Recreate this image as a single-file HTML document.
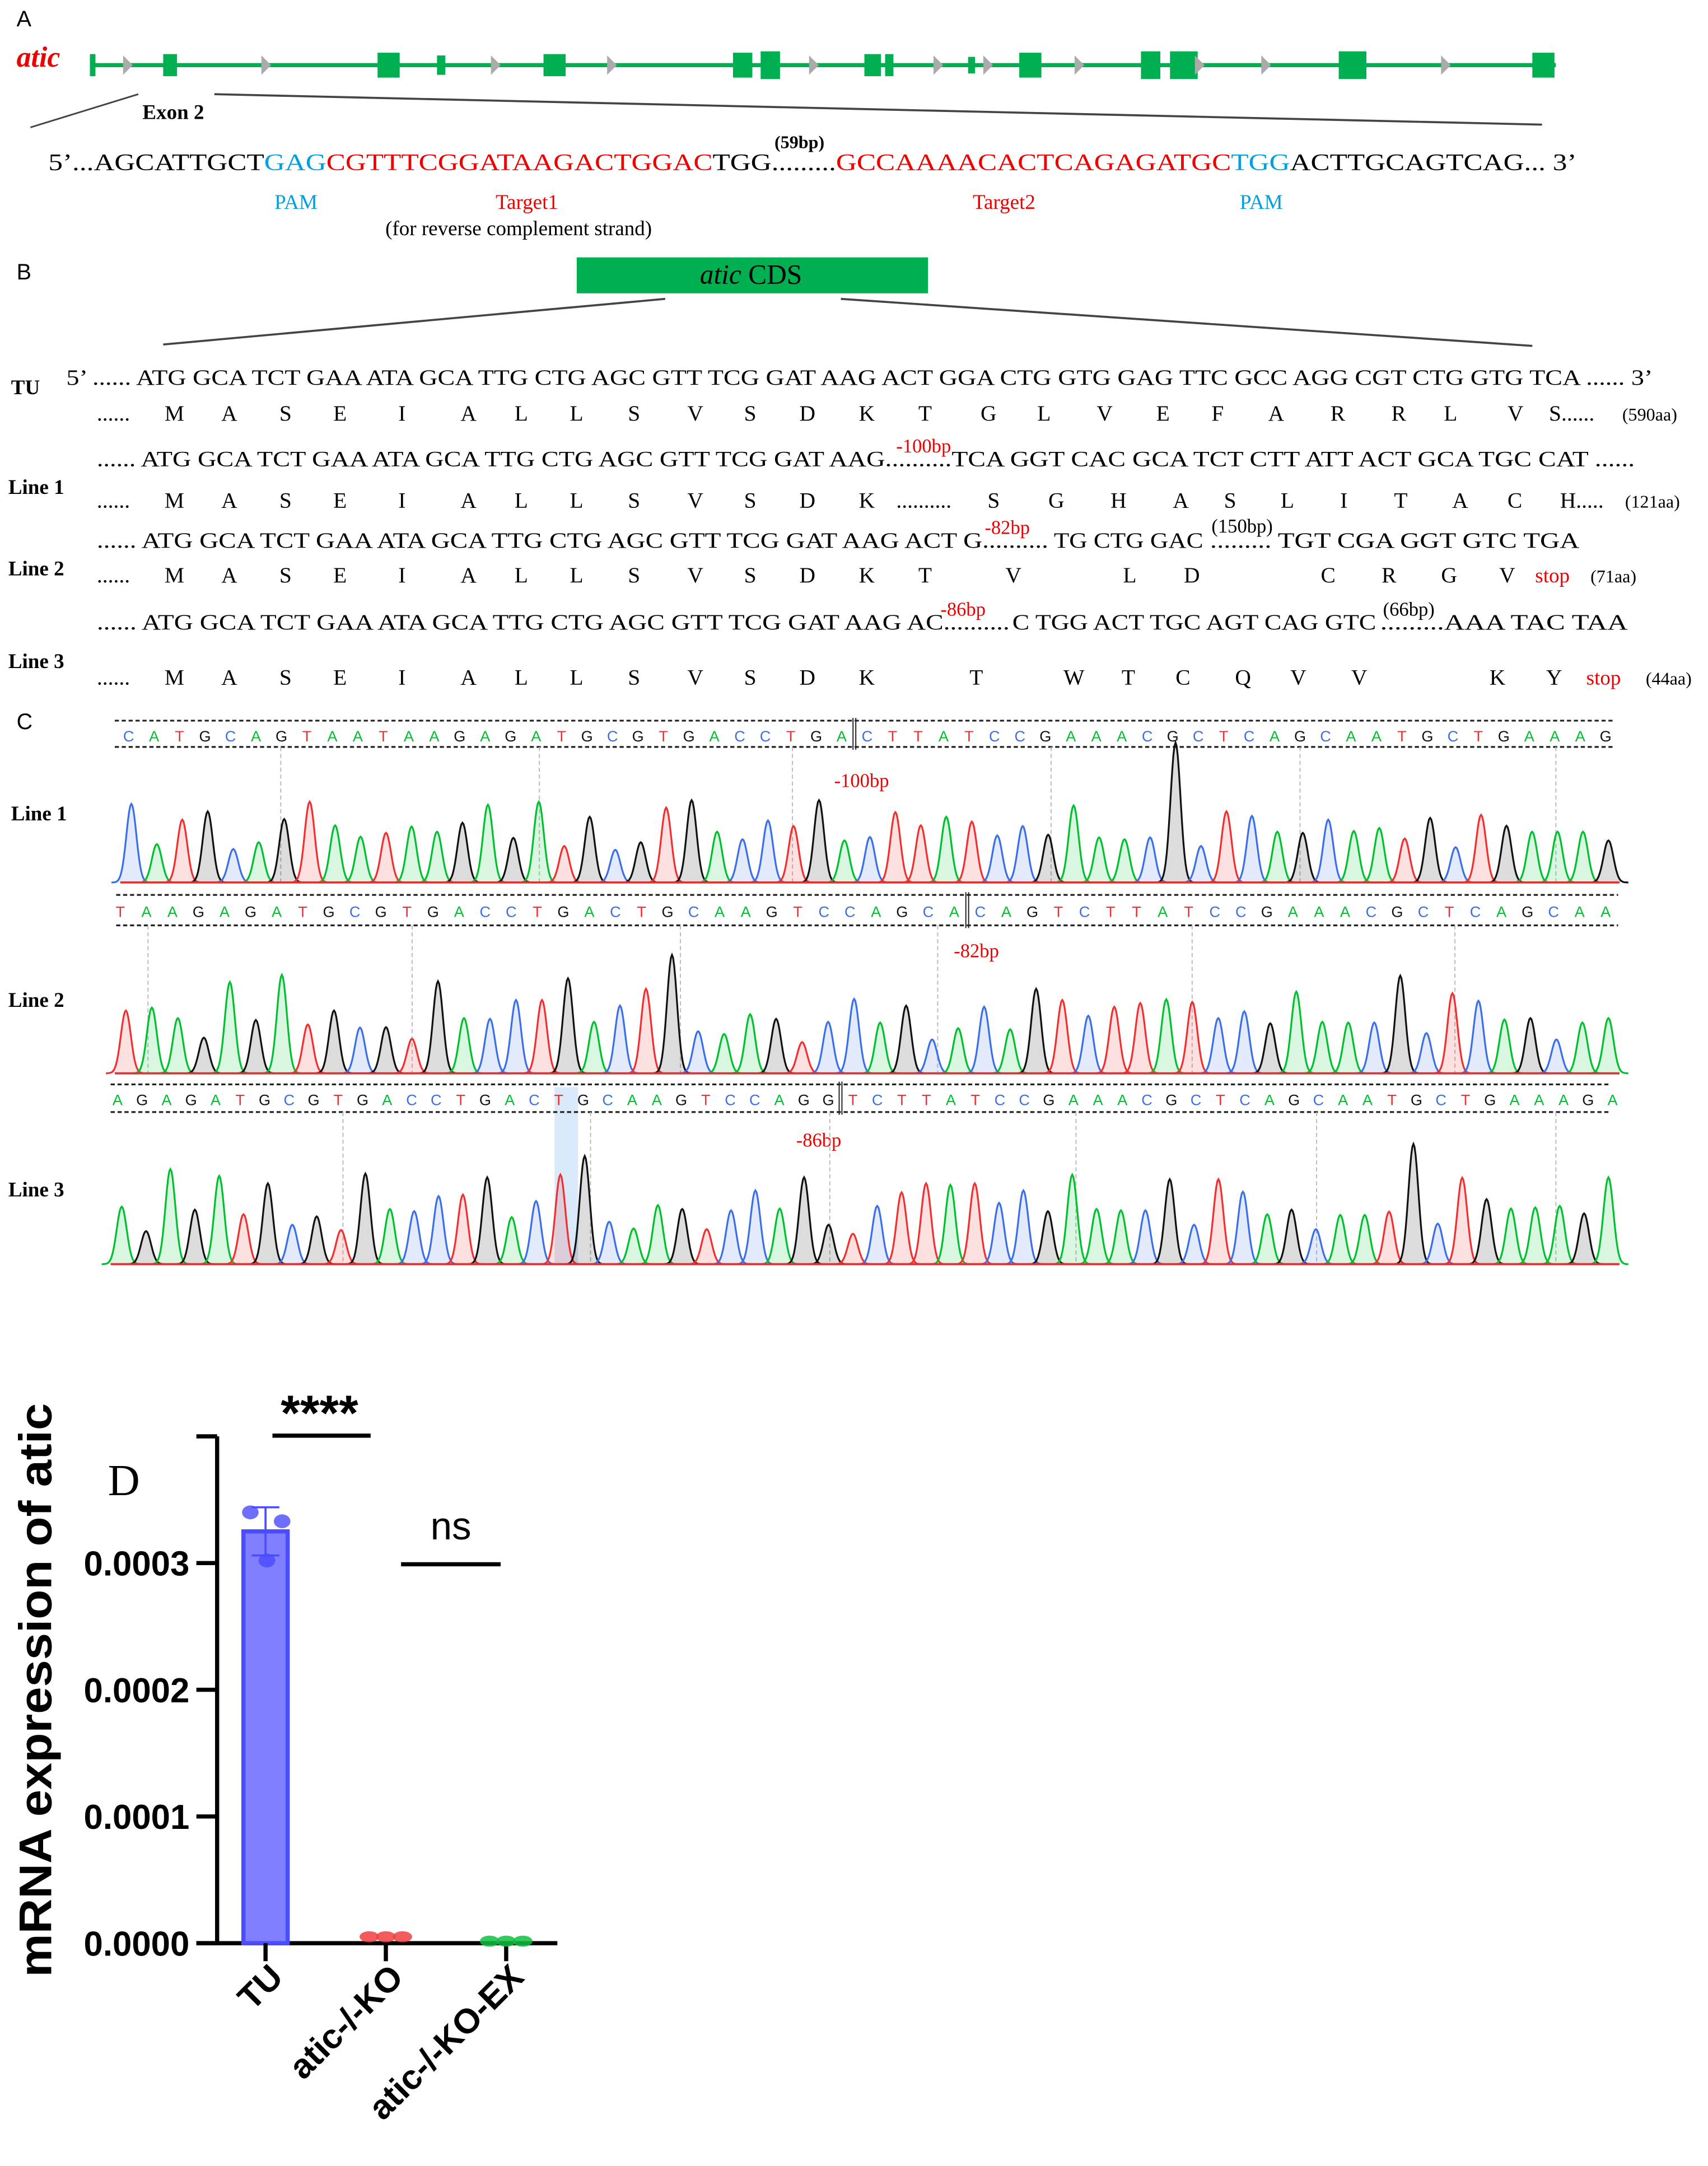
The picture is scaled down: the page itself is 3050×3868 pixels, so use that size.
<!DOCTYPE html>
<html><head><meta charset="utf-8"><style>
html,body{margin:0;padding:0;background:#fff}
svg{display:block}
text{font-family:"Liberation Serif",serif}
.s{font-family:"Liberation Sans",sans-serif}
</style></head><body>
<svg id="fig" width="3050" height="3868" viewBox="0 0 1235 1566" xmlns="http://www.w3.org/2000/svg">
<rect width="1235" height="1566" fill="#fff"/>
<!-- Panel A -->
<g>
<text class="s" x="12" y="19" font-size="16">A</text>
<text x="12" y="48" font-size="21" fill="#e00" font-style="italic" font-weight="bold">atic</text>
<line x1="65" y1="47" x2="1125" y2="47" stroke="#00b050" stroke-width="3"/>
<g id="exons"></g>
<g id="chev"></g>
<line x1="22" y1="92" x2="100" y2="68" stroke="#444" stroke-width="1.2"/>
<line x1="155" y1="68" x2="1115" y2="90" stroke="#444" stroke-width="1.5"/>
<text x="103" y="86" font-size="15" font-weight="bold">Exon 2</text>
<text x="560" y="107" font-size="13" font-weight="bold">(59bp)</text>
<text x="35" y="123" font-size="17" textLength="1105" lengthAdjust="spacingAndGlyphs">5’...AGCATTGCT<tspan fill="#00a0e0">GAG</tspan><tspan fill="#e00">CGTTTCGGATAAGACTGGAC</tspan>TGG.........<tspan fill="#e00">GCCAAAACACTCAGAGATGC</tspan><tspan fill="#00a0e0">TGG</tspan>ACTTGCAGTCAG... 3’</text>
<text x="214" y="151" font-size="15" fill="#00a0e0" text-anchor="middle">PAM</text>
<text x="381" y="151" font-size="15" fill="#e00" text-anchor="middle">Target1</text>
<text x="375" y="170" font-size="15" text-anchor="middle">(for reverse complement strand)</text>
<text x="726" y="151" font-size="15" fill="#e00" text-anchor="middle">Target2</text>
<text x="912" y="151" font-size="15" fill="#00a0e0" text-anchor="middle">PAM</text>
</g>
<!-- Panel B -->
<g>
<text class="s" x="12" y="202" font-size="16">B</text>
<rect x="417" y="186" width="254" height="26" fill="#00b050"/>
<text x="543" y="205" font-size="20" text-anchor="middle"><tspan font-style="italic">atic</tspan> CDS</text>
<line x1="481" y1="216" x2="118" y2="249" stroke="#444" stroke-width="1.5"/>
<line x1="608" y1="216" x2="1108" y2="250" stroke="#444" stroke-width="1.5"/>
<text x="8" y="285" font-size="15" font-weight="bold">TU</text>
<text x="48" y="278" font-size="16" textLength="1147" lengthAdjust="spacingAndGlyphs">5’ ...... ATG GCA TCT GAA ATA GCA TTG CTG AGC GTT TCG GAT AAG ACT GGA CTG GTG GAG TTC GCC AGG CGT CTG GTG TCA ...... 3’</text>
<text x="6" y="357" font-size="15" font-weight="bold">Line 1</text>
<text x="70" y="337" font-size="16" textLength="570" lengthAdjust="spacingAndGlyphs">...... ATG GCA TCT GAA ATA GCA TTG CTG AGC GTT TCG GAT AAG</text>
<text x="648" y="327" font-size="14" fill="#e00">-100bp</text>
<text x="640" y="337" font-size="16" textLength="542" lengthAdjust="spacingAndGlyphs">..........TCA GGT CAC GCA TCT CTT ATT ACT GCA TGC CAT ......</text>
<text x="6" y="416" font-size="15" font-weight="bold">Line 2</text>
<text x="70" y="396" font-size="16" textLength="688" lengthAdjust="spacingAndGlyphs">...... ATG GCA TCT GAA ATA GCA TTG CTG AGC GTT TCG GAT AAG ACT G..........</text>
<text x="712" y="386" font-size="14" fill="#e00">-82bp</text>
<text x="762" y="396" font-size="16" textLength="108" lengthAdjust="spacingAndGlyphs">TG CTG GAC</text>
<text x="876" y="385" font-size="14">(150bp)</text>
<text x="875" y="396" font-size="16" textLength="267" lengthAdjust="spacingAndGlyphs">......... TGT CGA GGT GTC TGA</text>
<text x="6" y="483" font-size="15" font-weight="bold">Line 3</text>
<text x="70" y="455" font-size="16" textLength="660" lengthAdjust="spacingAndGlyphs">...... ATG GCA TCT GAA ATA GCA TTG CTG AGC GTT TCG GAT AAG AC..........</text>
<text x="680" y="445" font-size="14" fill="#e00">-86bp</text>
<text x="732" y="455" font-size="16" textLength="263" lengthAdjust="spacingAndGlyphs">C TGG ACT TGC AGT CAG GTC</text>
<text x="1000" y="445" font-size="14">(66bp)</text>
<text x="998" y="455" font-size="16" textLength="179" lengthAdjust="spacingAndGlyphs">.........AAA TAC TAA</text>
<g id="aa"></g>
</g>
<!-- Panel C -->
<g id="panelC">
<text class="s" x="12" y="527" font-size="16">C</text>
<text x="8" y="593" font-size="15" font-weight="bold">Line 1</text>
<text x="6" y="728" font-size="15" font-weight="bold">Line 2</text>
<text x="6" y="865" font-size="15" font-weight="bold">Line 3</text>
<rect x="401" y="786" width="17" height="128" fill="#cfe3f7" opacity="0.8"/>
<text x="623" y="569" font-size="14" fill="#e00" text-anchor="middle">-100bp</text>
<text x="706" y="692" font-size="14" fill="#e00" text-anchor="middle">-82bp</text>
<text x="592" y="829" font-size="14" fill="#e00" text-anchor="middle">-86bp</text>
</g>
<!-- Panel D -->
<g id="panelD">
<text x="78" y="1081" font-size="32">D</text>
<text class="s" transform="translate(37,1222) rotate(-90)" font-size="33" font-weight="bold" text-anchor="middle" textLength="415" lengthAdjust="spacingAndGlyphs">mRNA expression of atic</text>
</g>
</svg>
<script>
const NS='http://www.w3.org/2000/svg';
function mk(tag,attrs,parent){const e=document.createElementNS(NS,tag);for(const k in attrs)e.setAttribute(k,attrs[k]);parent.appendChild(e);return e;}
// Gene model
const exonX=[65,118,273,316,393,530,550,625,640,700,737,825,846,968,1108];
const exonW=[4,10,16,6,16,14,14,12,6,5,16,14,20,20,16];
const exonH=[16,16,18,14,16,18,20,16,16,12,18,20,20,20,18];
const ex=document.getElementById('exons');
exonX.forEach((x,i)=>{const r=mk('rect',{x:x,y:47-exonH[i]/2,width:exonW[i],height:exonH[i],fill:'#00b050'},ex);

});
const chevX=[92,192,358,442,588,678,714,780,867,915,1045];
const ch=document.getElementById('chev');
chevX.forEach(x=>{const p=mk('path',{d:`M${x-3} 40 L${x+4} 47 L${x-3} 54 Z`,fill:'#aaa'},ch);

});
// Amino acid rows
const aaG=document.getElementById('aa');
const rows=[
 {y:304,items:[[70,'......'],[119,'M'],[160,'A'],[202,'S'],[241,'E'],[288,'I'],[333,'A'],[372,'L'],[412,'L'],[454,'S'],[497,'V'],[538,'S'],[578,'D'],[621,'K'],[664,'T'],[709,'G'],[750,'L'],[793,'V'],[836,'E'],[876,'F'],[917,'A'],[962,'R'],[1006,'R'],[1044,'L'],[1090,'V'],[1120,'S......'],[1173,'(590aa)',13]]},
 {y:367,items:[[70,'......'],[119,'M'],[160,'A'],[202,'S'],[241,'E'],[288,'I'],[333,'A'],[372,'L'],[412,'L'],[454,'S'],[497,'V'],[538,'S'],[578,'D'],[621,'K'],[648,'..........'],[714,'S'],[758,'G'],[803,'H'],[848,'A'],[885,'S'],[926,'L'],[969,'I'],[1008,'T'],[1050,'A'],[1090,'C'],[1128,'H.....'],[1175,'(121aa)',13]]},
 {y:421,items:[[70,'......'],[119,'M'],[160,'A'],[202,'S'],[241,'E'],[288,'I'],[333,'A'],[372,'L'],[412,'L'],[454,'S'],[497,'V'],[538,'S'],[578,'D'],[621,'K'],[664,'T'],[727,'V'],[812,'L'],[856,'D'],[955,'C'],[999,'R'],[1042,'G'],[1084,'V'],[1110,'stop',15,'#e00'],[1150,'(71aa)',13]]},
 {y:495,items:[[70,'......'],[119,'M'],[160,'A'],[202,'S'],[241,'E'],[288,'I'],[333,'A'],[372,'L'],[412,'L'],[454,'S'],[497,'V'],[538,'S'],[578,'D'],[621,'K'],[701,'T'],[769,'W'],[811,'T'],[850,'C'],[893,'Q'],[933,'V'],[977,'V'.replace('V','V')],[1077,'K'],[1118,'Y'],[1147,'stop',15,'#e00'],[1190,'(44aa)',13]]}
];
rows[3].items[20][1]='V';
rows.forEach((r,ri)=>{r.items.forEach(it=>{const t=mk('text',{x:it[0],y:r.y,'font-size':it[2]||16,fill:it[3]||'#000'},aaG);t.textContent=it[1];

});});

// Chromatograms
const baseColor={A:'#00c030',C:'#3b6fe8',G:'#111',T:'#f03030'};
const seqText1='CATGCAGTAATAAGAGATGCGTGACCTGA|CTTATCCGAAACGCTCAGCAATGCTGAAAG';
const seqText2='TAAGAGATGCGTGACCTGACTGCAAGTCCAGCA|CAGTCTTATCCGAAACGCTCAGCAA';
const seqText3='AGAGATGCGTGACCTGACTGCAAGTCCAGG|TCTTATCCGAAACGCTCAGCAATGCTGAAAGA';
const peaks1='CATGCAGTAATAAGAGATGCGTGACCTGACTTATCCGAAACGCTCAGCAATGCTGAAAG';
const heights1=[209,102,167,189,89,107,169,215,152,122,132,149,135,159,207,119,215,97,175,87,107,199,219,135,115,165,150,219,112,121,187,152,175,162,125,150,127,205,120,115,120,372,97,189,177,135,132,167,137,145,117,172,94,180,151,135,135,135,112];
const peaks2='TAAGAGATGCGTGACCTGACTGCAAGTCCAGCACAGTCTTATCCGAAACGCTCAGCAA';
const heights2=[167,175,147,95,243,142,262,130,167,122,123,92,245,147,145,195,195,253,137,180,225,315,112,105,157,145,83,137,198,135,180,90,120,177,117,225,195,153,177,187,197,190,147,165,133,217,137,135,135,260,107,213,193,143,147,90,135,147];
const peaks3='AGAGATGCGTGACCTGACTGCAAGTCCAGGTCTTATCCGAAACGCTCAGCAATGCTGAAAGA';
const heights3=[153,88,253,145,235,133,215,105,127,91,241,147,141,181,185,231,125,168,238,288,113,95,157,147,93,143,196,148,231,105,81,155,191,215,211,215,163,196,141,238,147,143,143,226,105,226,193,133,145,93,131,131,140,320,108,230,173,148,151,155,135,231];
const C=document.getElementById('panelC');
const tracks=[
 {txt:seqText1,pk:peaks1,h:heights1,tx0:93,tx1:1161,ty:536,b0:521,b1:540,bx0:83,bx1:1168,px0:95,px1:1163,base:638,grid:[203,390,573,760,940,1125]},
 {txt:seqText2,pk:peaks2,h:heights2,tx0:87,tx1:1161,ty:663,b0:647,b1:669,bx0:84,bx1:1170,px0:91,px1:1163,base:776,grid:[107,298,492,678,862,1052]},
 {txt:seqText3,pk:peaks3,h:heights3,tx0:85,tx1:1166,ty:799,b0:784,b1:804,bx0:80,bx1:1165,px0:88,px1:1163,base:914,grid:[248,427,600,778,952,1125]}
];
const hScale=0.2717;
tracks.forEach((tr,ti)=>{
 [tr.b0,tr.b1].forEach(y=>{const l=mk('line',{x1:tr.bx0,y1:y,x2:tr.bx1,y2:y,stroke:'#222','stroke-width':1.3,'stroke-dasharray':'3,2'},C);
 
 });
 tr.grid.forEach(x=>{const l=mk('line',{x1:x,y1:tr.b1,x2:x,y2:tr.base,stroke:'#bbb','stroke-width':0.8,'stroke-dasharray':'3,2'},C);
 
 });
 const letters=tr.txt.replace('|','');const sep=tr.txt.indexOf('|');
 const n=letters.length;const step=(tr.tx1-tr.tx0)/(n-1);
 for(let i=0;i<n;i++){const t=mk('text',{x:tr.tx0+i*step,y:tr.ty,'font-size':11,'text-anchor':'middle',fill:baseColor[letters[i]],class:'s'},C);t.textContent=letters[i];
 
 }
 const sx=tr.tx0+(sep-0.5)*step;
 const sl=mk('path',{d:`M${sx-1} ${tr.b0-2}V${tr.b1+2}M${sx+1} ${tr.b0-2}V${tr.b1+2}`,stroke:'#222','stroke-width':0.8},C);
 
 
 const m=tr.pk.length;const ps=(tr.px1-tr.px0)/(m-1);const sig=3.6;
 for(let i=0;i<m;i++){const x0=tr.px0+i*ps;const hh=tr.h[i]*hScale;let d=`M${(x0-4*sig).toFixed(1)} ${tr.base}`;
  for(let k=-4*sig;k<=4*sig+0.01;k+=0.8){d+=` L${(x0+k).toFixed(1)} ${(tr.base-hh*Math.exp(-k*k/(2*sig*sig))).toFixed(1)}`;}
  const col=baseColor[tr.pk[i]];
  const p=mk('path',{d:d,fill:col,'fill-opacity':0.15,stroke:col,'stroke-width':1.3},C);
  
  }
 const bl=mk('line',{x1:tr.px0-8,y1:tr.base,x2:tr.px1+8,y2:tr.base,stroke:'#d33','stroke-width':1.5},C);
 
 
});

// Bar chart D
const categories=['TU','atic-/-KO','atic-/-KO-EX'];
const means=[0.000325,0.000003,0.0000005];
const sdev=[0.000019,0,0];
const pts=[[0.00034,0.000333,0.000302],[0.000004,0.000004,0.000004],[0.0000005,0.0000005,0.0000005]];
const yTicks=[0,0.0001,0.0002,0.0003];
const yTickLabels=['0.0000','0.0001','0.0002','0.0003'];
const colors=['#4b4bff','#f04040','#10c040'];
const D=document.getElementById('panelD');
const y0=1405,yMax=0.0004,yTop=1038.5;
const ys=v=>y0-(v/yMax)*(y0-yTop);
const catX=[192,279,367];
const xs=i=>catX[0]+i*(catX[1]-catX[0]);
const spine=mk('line',{x1:157,y1:yTop,x2:157,y2:y0+1.5,stroke:'#000','stroke-width':3},D);


const xa=mk('line',{x1:142,y1:y0,x2:403,y2:y0,stroke:'#000','stroke-width':3},D);


const topT=mk('line',{x1:142,y1:yTop,x2:157,y2:yTop,stroke:'#000','stroke-width':3},D);


yTicks.forEach((v,i)=>{const l=mk('line',{x1:142,y1:ys(v),x2:157,y2:ys(v),stroke:'#000','stroke-width':3},D);


const t=mk('text',{x:137,y:ys(v)+9,'font-size':25,'font-weight':'bold','text-anchor':'end',class:'s'},D);t.textContent=yTickLabels[i];

});
categories.forEach((c,i)=>{const x=xs(i);
 if(means[i]>0.00001){const b=mk('rect',{x:x-16,y:ys(means[i]),width:32,height:y0-ys(means[i]),fill:'#7f7fff',stroke:'#4b4bff','stroke-width':3},D);
 
 
 const e=mk('path',{d:`M${x} ${ys(means[i]-sdev[i])}V${ys(means[i]+sdev[i])}M${x-10} ${ys(means[i]+sdev[i])}H${x+10}M${x-10} ${ys(means[i]-sdev[i])}H${x+10}`,stroke:'#4b4bff','stroke-width':1.5,fill:'none'},D);
 
 }
 const tk=mk('line',{x1:x,y1:y0,x2:x,y2:y0+13,stroke:'#000','stroke-width':3},D);
 
 
 pts[i].forEach((v,j)=>{const dx=i===0?[-11,12,1][j]:(j-1)*12;const cc=mk('ellipse',{cx:x+dx,cy:ys(v)-(i>0?1:0),rx:i===0?6:7,ry:i===0?5:4,fill:colors[i],'fill-opacity':i===0?0.8:0.85},D);
 
 });
 const t=mk('text',{transform:`translate(${x+14},${y0+26}) rotate(-45)`,'font-size':25,'font-weight':'bold','text-anchor':'end',class:'s'},D);t.textContent=c;
 
 
});
const s1=mk('line',{x1:197,y1:1038,x2:268,y2:1038,stroke:'#000','stroke-width':3},D);


const s1t=mk('text',{x:231,y:1034,'font-size':36,'font-weight':'bold','text-anchor':'middle',class:'s'},D);s1t.textContent='****';


const s2=mk('line',{x1:290,y1:1131,x2:362,y2:1131,stroke:'#000','stroke-width':3},D);


const s2t=mk('text',{x:326,y:1113,'font-size':28,'text-anchor':'middle',class:'s'},D);s2t.textContent='ns';


</script>
</body></html>
